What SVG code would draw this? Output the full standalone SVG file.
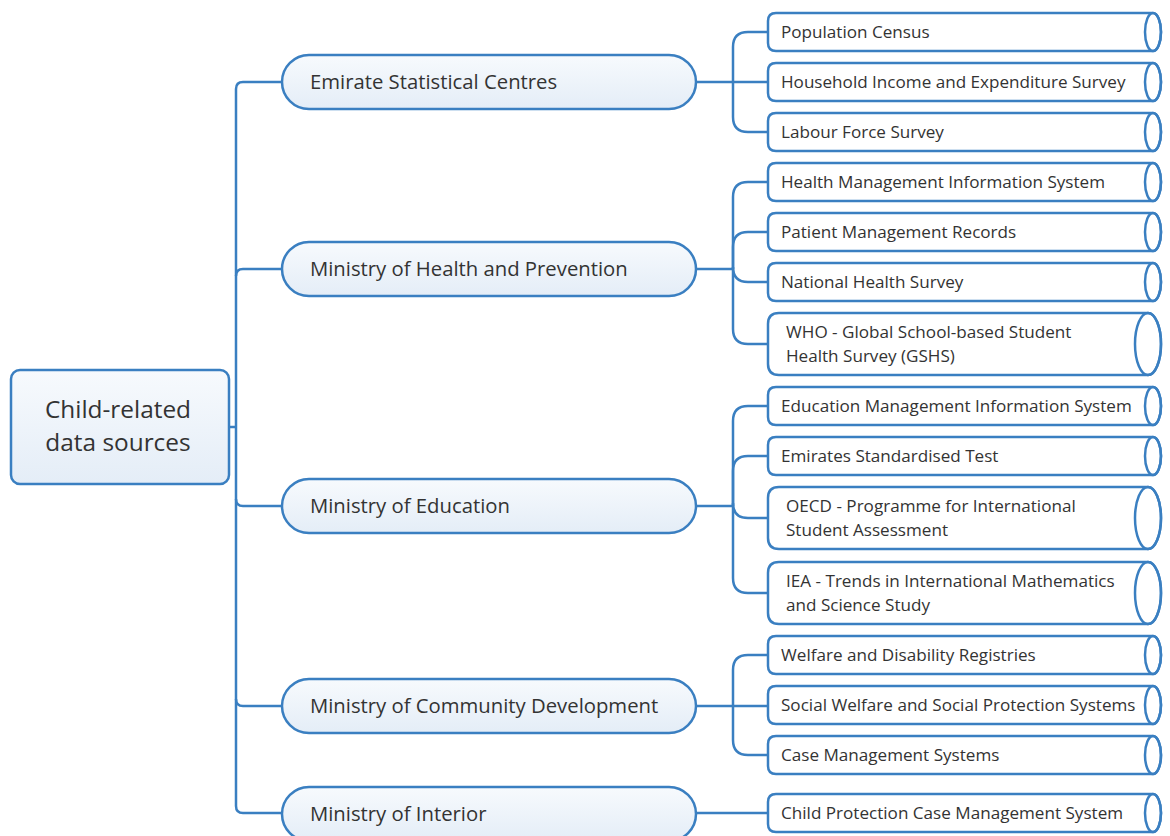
<svg xmlns="http://www.w3.org/2000/svg" width="1170" height="836" viewBox="0 0 1170 836">
<defs>
<linearGradient id="g" x1="0" y1="0" x2="0" y2="1"><stop offset="0" stop-color="#f7fafd"/><stop offset="1" stop-color="#e4edf7"/></linearGradient>
<style>
.ln{fill:none;stroke:#3a7fc1;stroke-width:2.5}
.pill{fill:url(#g);stroke:#3a7fc1;stroke-width:2.5}
.cyl{fill:#fff;stroke:#3a7fc1;stroke-width:2.5}
.end{fill:none;stroke:#3a7fc1;stroke-width:2.5}
.t1{font-family:"Open Sans","Noto Sans",sans-serif;font-size:20.3px;fill:#333}
.t2{font-family:"Open Sans","Noto Sans",sans-serif;font-size:17.1px;fill:#333}
.t0{font-family:"Open Sans","Noto Sans",sans-serif;font-size:24.4px;fill:#333;text-anchor:middle}
</style>
</defs>
<rect width="1170" height="836" fill="#fff"/>
<g id="connectors">
<path class="ln" d="M229,427 H236"/>
<path class="ln" d="M282,82 H243 Q236,82 236,89 V806 Q236,813 243,813 H282"/>
<path class="ln" d="M236,276 Q236,269 243,269 H282"/>
<path class="ln" d="M236,499 Q236,506 243,506 H282"/>
<path class="ln" d="M236,699 Q236,706 243,706 H282"/>
<path class="ln" d="M696,82 H768"/>
<path class="ln" d="M733,82 V47 Q733,32 748,32 H768"/>
<path class="ln" d="M733,82 V117 Q733,132 748,132 H768"/>
<path class="ln" d="M696,269 H733"/>
<path class="ln" d="M733,269 V197 Q733,182 748,182 H768"/>
<path class="ln" d="M733,269 V247 Q733,232 748,232 H768"/>
<path class="ln" d="M733,269 V267 Q733,282 748,282 H768"/>
<path class="ln" d="M733,269 V329 Q733,344 748,344 H768"/>
<path class="ln" d="M696,506 H733"/>
<path class="ln" d="M733,506 V421 Q733,406 748,406 H768"/>
<path class="ln" d="M733,506 V471 Q733,456 748,456 H768"/>
<path class="ln" d="M733,506 V503 Q733,518 748,518 H768"/>
<path class="ln" d="M733,506 V578 Q733,593 748,593 H768"/>
<path class="ln" d="M696,706 H768"/>
<path class="ln" d="M733,706 V670 Q733,655 748,655 H768"/>
<path class="ln" d="M733,706 V740 Q733,755 748,755 H768"/>
<path class="ln" d="M696,813 H768"/>
</g>
<g id="root">
<rect class="pill" x="11" y="370" width="218" height="114" rx="9"/>
<text class="t0" x="118" y="418">Child-related</text>
<text class="t0" x="118" y="451">data sources</text>
</g>
<g id="n-emirate"><rect class="pill" x="282" y="55" width="414" height="54" rx="27"/><text class="t1" x="310" y="89">Emirate Statistical Centres</text></g>
<g id="n-health"><rect class="pill" x="282" y="242" width="414" height="54" rx="27"/><text class="t1" x="310" y="276">Ministry of Health and Prevention</text></g>
<g id="n-education"><rect class="pill" x="282" y="479" width="414" height="54" rx="27"/><text class="t1" x="310" y="513">Ministry of Education</text></g>
<g id="n-community"><rect class="pill" x="282" y="679" width="414" height="54" rx="27"/><text class="t1" x="310" y="713">Ministry of Community Development</text></g>
<g id="n-interior"><rect class="pill" x="282" y="787" width="414" height="54" rx="27"/><text class="t1" x="310" y="821">Ministry of Interior</text></g>

<g id="c1"><path class="cyl" d="M776,13 H1153 A8,19 0 0 1 1153,51 H776 Q768,51 768,43 V21 Q768,13 776,13 Z"/><ellipse class="end" cx="1153" cy="32" rx="8" ry="19"/><text class="t2" x="781" y="38">Population Census</text></g>
<g id="c2"><path class="cyl" d="M776,63 H1153 A8,19 0 0 1 1153,101 H776 Q768,101 768,93 V71 Q768,63 776,63 Z"/><ellipse class="end" cx="1153" cy="82" rx="8" ry="19"/><text class="t2" x="781" y="88">Household Income and Expenditure Survey</text></g>
<g id="c3"><path class="cyl" d="M776,113 H1153 A8,19 0 0 1 1153,151 H776 Q768,151 768,143 V121 Q768,113 776,113 Z"/><ellipse class="end" cx="1153" cy="132" rx="8" ry="19"/><text class="t2" x="781" y="138">Labour Force Survey</text></g>
<g id="c4"><path class="cyl" d="M776,163 H1153 A8,19 0 0 1 1153,201 H776 Q768,201 768,193 V171 Q768,163 776,163 Z"/><ellipse class="end" cx="1153" cy="182" rx="8" ry="19"/><text class="t2" x="781" y="188">Health Management Information System</text></g>
<g id="c5"><path class="cyl" d="M776,213 H1153 A8,19 0 0 1 1153,251 H776 Q768,251 768,243 V221 Q768,213 776,213 Z"/><ellipse class="end" cx="1153" cy="232" rx="8" ry="19"/><text class="t2" x="781" y="238">Patient Management Records</text></g>
<g id="c6"><path class="cyl" d="M776,263 H1153 A8,19 0 0 1 1153,301 H776 Q768,301 768,293 V271 Q768,263 776,263 Z"/><ellipse class="end" cx="1153" cy="282" rx="8" ry="19"/><text class="t2" x="781" y="288">National Health Survey</text></g>
<g id="c7"><path class="cyl" d="M779,313 H1148 A13,31 0 0 1 1148,375 H779 Q768,375 768,364 V324 Q768,313 779,313 Z"/><ellipse class="end" cx="1148" cy="344" rx="13" ry="31"/><text class="t2" x="786" y="338">WHO - Global School-based Student</text><text class="t2" x="786" y="362">Health Survey (GSHS)</text></g>
<g id="c8"><path class="cyl" d="M776,387 H1153 A8,19 0 0 1 1153,425 H776 Q768,425 768,417 V395 Q768,387 776,387 Z"/><ellipse class="end" cx="1153" cy="406" rx="8" ry="19"/><text class="t2" x="781" y="412">Education Management Information System</text></g>
<g id="c9"><path class="cyl" d="M776,437 H1153 A8,19 0 0 1 1153,475 H776 Q768,475 768,467 V445 Q768,437 776,437 Z"/><ellipse class="end" cx="1153" cy="456" rx="8" ry="19"/><text class="t2" x="781" y="462">Emirates Standardised Test</text></g>
<g id="c10"><path class="cyl" d="M779,487 H1148 A13,31 0 0 1 1148,549 H779 Q768,549 768,538 V498 Q768,487 779,487 Z"/><ellipse class="end" cx="1148" cy="518" rx="13" ry="31"/><text class="t2" x="786" y="512">OECD - Programme for International</text><text class="t2" x="786" y="536">Student Assessment</text></g>
<g id="c11"><path class="cyl" d="M779,562 H1148 A13,31 0 0 1 1148,624 H779 Q768,624 768,613 V573 Q768,562 779,562 Z"/><ellipse class="end" cx="1148" cy="593" rx="13" ry="31"/><text class="t2" x="786" y="587">IEA - Trends in International Mathematics</text><text class="t2" x="786" y="611">and Science Study</text></g>
<g id="c12"><path class="cyl" d="M776,636 H1153 A8,19 0 0 1 1153,674 H776 Q768,674 768,666 V644 Q768,636 776,636 Z"/><ellipse class="end" cx="1153" cy="655" rx="8" ry="19"/><text class="t2" x="781" y="661">Welfare and Disability Registries</text></g>
<g id="c13"><path class="cyl" d="M776,686 H1153 A8,19 0 0 1 1153,724 H776 Q768,724 768,716 V694 Q768,686 776,686 Z"/><ellipse class="end" cx="1153" cy="705" rx="8" ry="19"/><text class="t2" x="781" y="711">Social Welfare and Social Protection Systems</text></g>
<g id="c14"><path class="cyl" d="M776,736 H1153 A8,19 0 0 1 1153,774 H776 Q768,774 768,766 V744 Q768,736 776,736 Z"/><ellipse class="end" cx="1153" cy="755" rx="8" ry="19"/><text class="t2" x="781" y="761">Case Management Systems</text></g>
<g id="c15"><path class="cyl" d="M776,794 H1153 A8,19 0 0 1 1153,832 H776 Q768,832 768,824 V802 Q768,794 776,794 Z"/><ellipse class="end" cx="1153" cy="813" rx="8" ry="19"/><text class="t2" x="781" y="819">Child Protection Case Management System</text></g>
</svg>
